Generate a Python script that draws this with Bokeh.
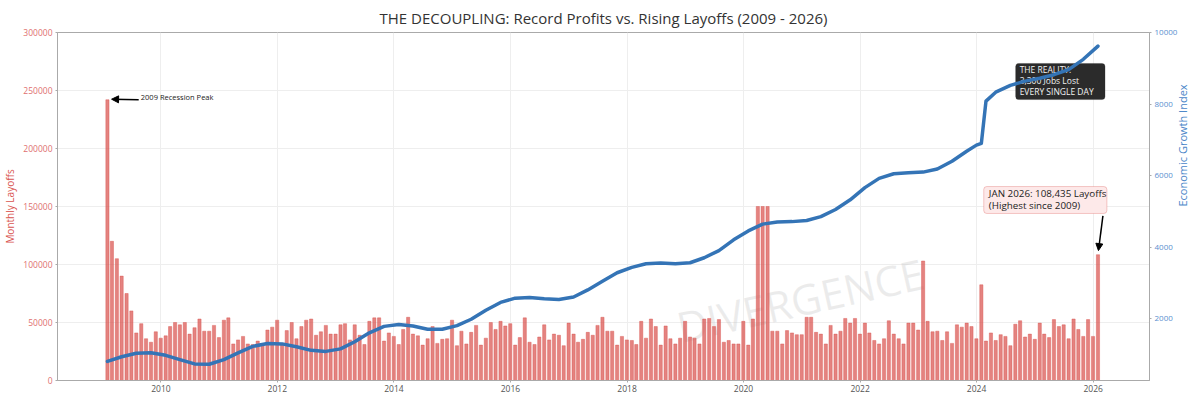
import math
import pandas as pd
from bokeh.plotting import figure
from bokeh.models import (Range1d, LinearAxis, FixedTicker, DatetimeTickFormatter,
                          BasicTickFormatter, Label, Arrow, NormalHead, ColumnDataSource,
                          BoxAnnotation)
from bokeh.embed import file_html
from bokeh.resources import INLINE

# ---------------- data ----------------
layoffs_2009 = [242000, 120000, 105000, 90000, 75000, 60000, 41000, 49000, 36000, 33000, 42000, 36500]
layoffs_2010 = [38500, 46500, 50000, 48000, 50000, 40000, 45500, 53000, 42500, 42500, 47500, 37000]
layoffs_2011 = [52000, 54000, 31500, 35000, 38000, 31500, 31000, 34000, 31500, 43500, 46000, 52000]
layoffs_2012 = [32000, 43000, 50000, 36000, 46500, 52000, 53000, 39000, 42000, 47500, 40000, 40000]
layoffs_2013 = [48000, 49000, 35000, 48000, 39000, 31000, 51000, 54000, 54000, 34000, 41000, 38000]
layoffs_2014 = [31000, 44000, 54500, 40000, 38500, 30500, 36000, 46500, 32000, 35500, 36000, 52000]
layoffs_2015 = [30000, 42500, 31500, 41500, 47500, 30500, 36500, 50000, 44000, 51000, 47000, 49000]
layoffs_2016 = [30500, 37000, 54000, 33000, 31000, 37500, 48000, 35000, 40000, 39000, 30000, 49500]
layoffs_2017 = [40000, 33000, 35500, 41500, 39000, 47500, 54500, 42500, 42500, 30500, 38000, 35000]
layoffs_2018 = [34500, 31000, 51000, 36500, 53000, 46500, 30500, 47000, 36000, 31500, 36500, 51000]
layoffs_2019 = [37500, 36500, 31500, 53000, 53500, 46500, 52500, 33000, 34500, 31500, 31500, 51000]
layoffs_2020 = [30500, 53000, 150000, 150000, 150000, 42500, 42500, 31500, 43000, 41000, 39500, 39500]
layoffs_2021 = [54500, 54500, 41500, 40000, 31500, 47500, 40000, 42500, 53500, 49500, 53500, 40000]
layoffs_2022 = [49500, 41000, 34500, 31500, 36000, 51500, 40000, 36000, 31500, 49500, 49500, 43500]
layoffs_2023 = [103000, 51000, 42000, 42500, 34500, 42000, 32000, 48000, 46000, 49500, 46500, 36000]
layoffs_2024 = [82500, 34000, 41000, 34500, 39500, 38000, 30000, 48500, 51500, 37500, 40000, 35500]
layoffs_2025 = [49500, 40000, 37000, 52500, 46500, 48000, 36000, 53000, 44000, 38000, 52500, 38000]
layoffs_2026 = [108435]

layoffs = (layoffs_2009 + layoffs_2010 + layoffs_2011 + layoffs_2012 + layoffs_2013 +
           layoffs_2014 + layoffs_2015 + layoffs_2016 + layoffs_2017 + layoffs_2018 +
           layoffs_2019 + layoffs_2020 + layoffs_2021 + layoffs_2022 + layoffs_2023 +
           layoffs_2024 + layoffs_2025 + layoffs_2026)
bar_dates = pd.date_range(start="2009-01-01", periods=len(layoffs), freq="MS") + pd.offsets.MonthEnd(0)

index_dates = ["2009-01-31", "2009-04-30", "2009-07-31", "2009-10-31",
               "2010-01-31", "2010-04-30", "2010-07-31", "2010-10-31",
               "2011-01-31", "2011-04-30", "2011-07-31", "2011-10-31",
               "2012-01-31", "2012-04-30", "2012-07-31", "2012-10-31",
               "2013-01-31", "2013-04-30", "2013-07-31", "2013-10-31",
               "2014-01-31", "2014-04-30", "2014-07-31", "2014-10-31",
               "2015-01-31", "2015-04-30", "2015-07-31", "2015-10-31",
               "2016-01-31", "2016-04-30", "2016-07-31", "2016-10-31",
               "2017-01-31", "2017-04-30", "2017-07-31", "2017-10-31",
               "2018-01-31", "2018-04-30", "2018-07-31", "2018-10-31",
               "2019-01-31", "2019-04-30", "2019-07-31", "2019-10-31",
               "2020-01-31", "2020-04-30", "2020-07-31", "2020-10-31",
               "2021-01-31", "2021-04-30", "2021-07-31", "2021-10-31",
               "2022-01-31", "2022-04-30", "2022-07-31", "2022-10-31",
               "2023-01-31", "2023-04-30", "2023-07-31", "2023-10-31", "2023-12-31",
               "2024-01-31", "2024-02-29", "2024-04-30", "2024-07-31", "2024-10-31",
               "2025-01-31", "2025-04-30", "2025-07-31", "2025-10-31", "2026-01-31"]
index_values = [800, 930, 1030, 1040,
                970, 850, 730, 720,
                850, 1040, 1220, 1300,
                1290, 1210, 1110, 1080,
                1150, 1350, 1600, 1780,
                1830, 1790, 1700, 1700,
                1800, 1980, 2230, 2450,
                2570, 2590, 2550, 2530,
                2600, 2800, 3040, 3280,
                3430, 3530, 3550, 3530,
                3560, 3700, 3900, 4200,
                4450, 4640, 4700, 4710,
                4740, 4850, 5050, 5320,
                5660, 5920, 6050, 6075,
                6095, 6180, 6400, 6680, 6850,
                6900, 8080, 8330, 8520, 8640,
                8720, 8820, 8960, 9250, 9620]

tick_years = [2010, 2012, 2014, 2016, 2018, 2020, 2022, 2024, 2026]
layoff_ticks = [0, 50000, 100000, 150000, 200000, 250000, 300000]
index_ticks = [2000, 4000, 6000, 8000, 10000]

title_text = "THE DECOUPLING: Record Profits vs. Rising Layoffs (2009 - 2026)"
left_label = "Monthly Layoffs"
right_label = "Economic Growth Index"
peak_text = "2009 Recession Peak"
reality_lines = ["THE REALITY:", "3,300 Jobs Lost", "EVERY SINGLE DAY"]
jan_lines = ["JAN 2026: 108,435 Layoffs", "(Highest since 2009)"]
watermark_text = "DIVERGENCE"

# ---------------- helpers ----------------
def ms(s):
    return pd.Timestamp(s).timestamp() * 1000.0

FONT = "Open Sans"
RED = "#d9534f"
BLUE = "#3474b6"

bar_src = ColumnDataSource(dict(date=bar_dates, layoffs=layoffs))
line_src = ColumnDataSource(dict(date=pd.to_datetime(index_dates), value=index_values))

p = figure(width=1200, height=398, x_axis_type="datetime",
           x_range=Range1d(pd.Timestamp("2008-03-24"), pd.Timestamp("2026-12-20")),
           y_range=Range1d(0, 300000),
           output_backend="svg", toolbar_location=None,
           min_border_left=53, min_border_right=48, min_border_top=32, min_border_bottom=18)
p.extra_y_ranges = {"idx": Range1d(266, 10000)}

p.background_fill_color = "white"
p.border_fill_color = "white"
p.outline_line_color = "#aaaaaa"
p.outline_line_width = 1

p.title.text = title_text
p.title.align = "center"
p.title.text_font = FONT
p.title.text_font_size = "15px"
p.title.text_font_style = "normal"
p.title.text_color = "#333333"
p.title.standoff = 10

x_ticker = FixedTicker(ticks=[ms(f"{y}-01-01") for y in tick_years])
y_ticker = FixedTicker(ticks=layoff_ticks)

p.xgrid.ticker = x_ticker
p.xgrid.grid_line_color = "#eeeeee"
p.ygrid.ticker = y_ticker
p.ygrid.grid_line_color = "#eeeeee"

# x axis
xa = p.xaxis[0]
xa.ticker = x_ticker
xa.formatter = DatetimeTickFormatter(years="%Y", months="%Y", days="%Y", hours="%Y",
                                     minutes="%Y", seconds="%Y")
xa.major_label_text_font = FONT
xa.major_label_text_font_size = "8.5px"
xa.major_label_text_line_height = 1.0
xa.major_label_text_color = "#555555"
xa.major_label_standoff = 2
xa.major_tick_out = 2
xa.major_tick_in = 0
xa.minor_tick_out = 0
xa.minor_tick_in = 0
xa.axis_line_color = "#aaaaaa"
xa.major_tick_line_color = "#aaaaaa"

# left axis
ya = p.yaxis[0]
ya.ticker = y_ticker
ya.formatter = BasicTickFormatter(use_scientific=False)
ya.major_label_text_font = FONT
ya.major_label_text_font_size = "8.5px"
ya.major_label_text_color = "#e07070"
ya.major_label_standoff = 3
ya.major_tick_out = 2
ya.major_tick_in = 0
ya.minor_tick_out = 0
ya.minor_tick_in = 0
ya.axis_line_color = "#aaaaaa"
ya.major_tick_line_color = "#aaaaaa"
ya.axis_label = left_label
ya.axis_label_text_font = FONT
ya.axis_label_text_font_size = "10px"
ya.axis_label_text_font_style = "normal"
ya.axis_label_text_color = RED
ya.axis_label_standoff = 3

# right axis
ra = LinearAxis(y_range_name="idx", ticker=FixedTicker(ticks=index_ticks))
ra.formatter = BasicTickFormatter(use_scientific=False)
ra.major_label_text_font = FONT
ra.major_label_text_font_size = "8px"
ra.major_label_text_color = "#5b8fcf"
ra.major_label_standoff = 3
ra.major_tick_out = 2
ra.major_tick_in = 0
ra.minor_tick_out = 0
ra.minor_tick_in = 0
ra.axis_line_color = "#aaaaaa"
ra.major_tick_line_color = "#aaaaaa"
ra.axis_label = right_label
ra.axis_label_text_font = FONT
ra.axis_label_text_font_size = "11px"
ra.axis_label_text_font_style = "normal"
ra.axis_label_text_color = "#4a86c8"
ra.axis_label_standoff = 2
ra.axis_label_orientation = math.pi / 2
p.add_layout(ra, "right")

# watermark
p.add_layout(Label(x=ms("2018-11-12"), y=46000, text=watermark_text, angle=0.22,
                   text_font=FONT, text_font_size="42px", text_color="#bbbbbb",
                   text_alpha=0.28, text_align="left", text_baseline="alphabetic",
                   level="underlay"))

# reality box (under the line)
p.add_layout(BoxAnnotation(left=ms("2024-09-02"), right=ms("2026-03-16"),
                           top=273300, bottom=242200,
                           fill_color="#2b2b2b", fill_alpha=1.0, line_color="#2b2b2b",
                           border_radius=3, level="underlay"))
for txt, yy in zip(reality_lines, [268100, 258600, 249100]):
    p.add_layout(Label(x=ms("2024-09-27"), y=yy, text=txt,
                       text_font=FONT, text_font_size="8.5px", text_color="#f2f2f2",
                       text_align="left", text_baseline="middle", level="underlay"))

# bars
p.vbar(x="date", top="layoffs", bottom=0, width=20 * 86400000, source=bar_src,
       fill_color=RED, fill_alpha=0.72, line_color=RED, line_alpha=0.85, line_width=0.5)

# growth index line
p.line(x="date", y="value", source=line_src, y_range_name="idx",
       line_color=BLUE, line_width=3.5, line_join="round", line_cap="round")

# annotations
p.add_layout(Label(x=ms("2009-08-28"), y=244800, text=peak_text,
                   text_font=FONT, text_font_size="7.5px", text_color="#222222",
                   text_align="left", text_baseline="middle"))
p.add_layout(Arrow(end=NormalHead(size=7, fill_color="black", line_color="black"),
                   x_start=ms("2009-08-15"), y_start=242000,
                   x_end=ms("2009-02-26"), y_end=242500,
                   line_color="black", line_width=1.5))

p.add_layout(BoxAnnotation(left=ms("2024-02-15"), right=ms("2026-03-28"),
                           top=167200, bottom=144000,
                           fill_color="#fde9e9", fill_alpha=1.0, line_color=RED,
                           line_width=1, border_radius=3))
for txt, yy in zip(jan_lines, [161200, 150900]):
    p.add_layout(Label(x=ms("2024-03-18"), y=yy, text=txt,
                       text_font=FONT, text_font_size="9.8px", text_color="#222222",
                       text_align="left", text_baseline="middle"))
p.add_layout(Arrow(end=NormalHead(size=7, fill_color="black", line_color="black"),
                   x_start=ms("2026-03-03"), y_start=142000,
                   x_end=ms("2026-02-03"), y_end=112000,
                   line_color="black", line_width=1.5))

open("out.html", "w").write(file_html(p, INLINE))
